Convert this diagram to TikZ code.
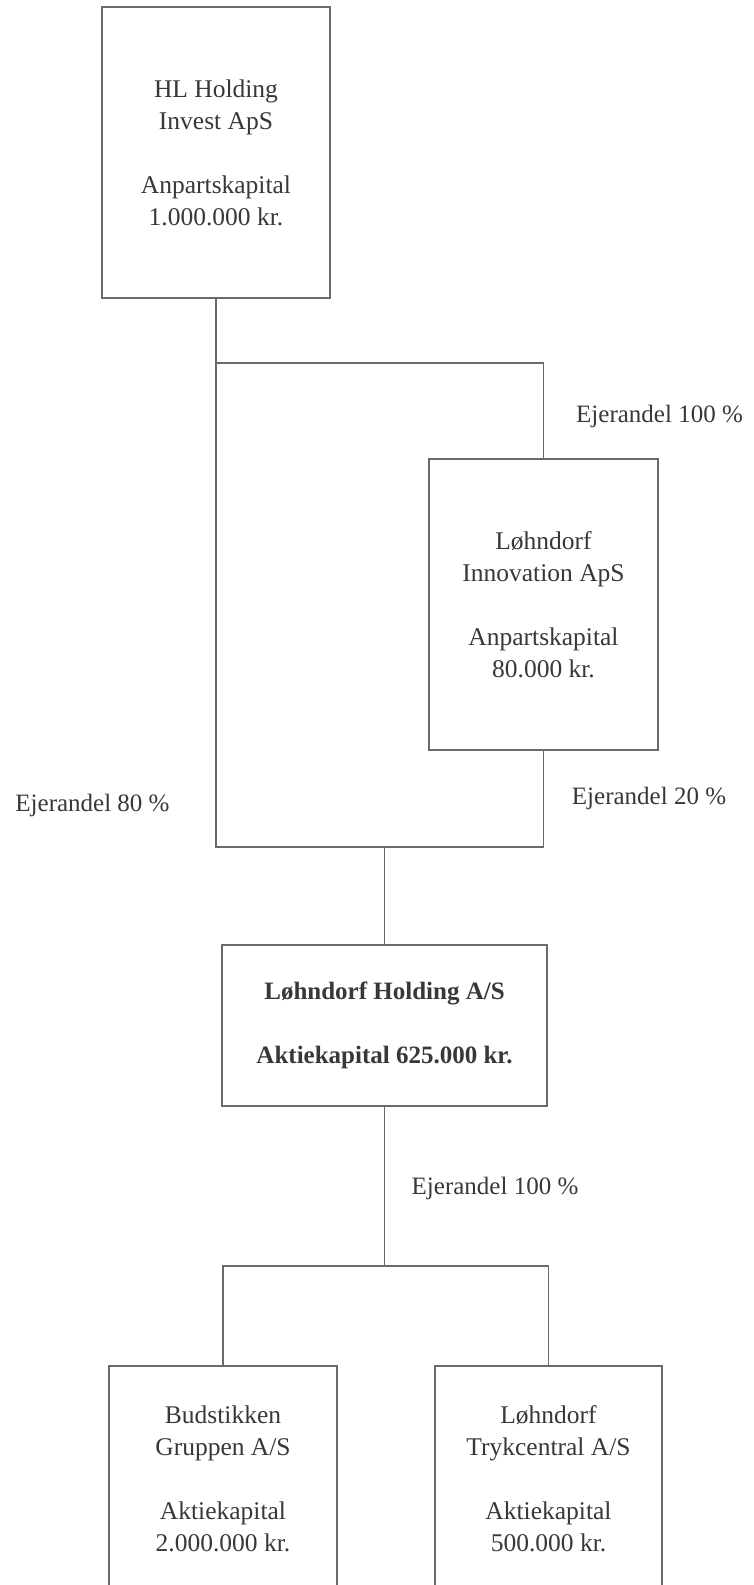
\documentclass[tikz,border=0pt]{standalone}
\usepackage{fontspec}
\setmainfont{Liberation Serif}
\definecolor{linec}{HTML}{6A6A6A}
\definecolor{textc}{HTML}{383838}
\begin{document}
\begin{tikzpicture}[x=1pt,y=-1pt,
  box/.style={draw=linec, line width=1.3pt, rectangle, align=center, text=textc,
    font=\fontsize{25.5}{32}\selectfont, inner sep=0pt},
  lbl/.style={text=textc, font=\fontsize{25}{32}\selectfont, inner sep=0pt},
  conn/.style={draw=linec, line width=1.3pt}]
\useasboundingbox (0,0) rectangle (753,1585);
\fill[white] (0,0) rectangle (753,1585);
\clip (0,0) rectangle (753,1585);
% boxes
\node[box, minimum width=228pt, minimum height=291pt] (top) at (216,152.5)
  {HL Holding\\Invest ApS\\[32pt]Anpartskapital\\1.000.000 kr.};
\node[box, minimum width=229pt, minimum height=291pt] (innov) at (543.5,604.5)
  {Løhndorf\\Innovation ApS\\[32pt]Anpartskapital\\80.000 kr.};
\node[box, minimum width=325pt, minimum height=161pt, font=\fontsize{25}{32}\selectfont\bfseries] (hold) at (384.5,1025.5)
  {Løhndorf Holding A/S\\[32pt]Aktiekapital 625.000 kr.};
\node[box, minimum width=228pt, minimum height=226pt] (bud) at (223,1479)
  {Budstikken\\Gruppen A/S\\[32pt]Aktiekapital\\2.000.000 kr.};
\node[box, minimum width=227pt, minimum height=226pt] (tryk) at (548.5,1479)
  {Løhndorf\\Trykcentral A/S\\[32pt]Aktiekapital\\500.000 kr.};
% junction coordinates
\coordinate (jT) at (216,363);
\coordinate (jL) at (216,847);
\coordinate (jR) at (543.5,847);
\coordinate (jM) at (384.5,847);
\coordinate (jB) at (384.5,1266);
% connectors
\draw[conn] (top.south) -- (jL) -- (jR) -- (innov.south);
\draw[conn] (jT) -- (innov.north |- jT) -- (innov.north);
\draw[conn] (jM) -- (hold.north);
\draw[conn] (hold.south) -- (jB);
\draw[conn] (bud.north) -- (bud.north |- jB) -- (tryk.north |- jB) -- (tryk.north);
% labels
\node[lbl] (l1) at (659.5,416) {Ejerandel 100 \%};
\node[lbl] (l2) at (92.5,805) {Ejerandel 80 \%};
\node[lbl] (l3) at (649,798) {Ejerandel 20 \%};
\node[lbl] (l4) at (495,1188) {Ejerandel 100 \%};
\end{tikzpicture}
\end{document}
